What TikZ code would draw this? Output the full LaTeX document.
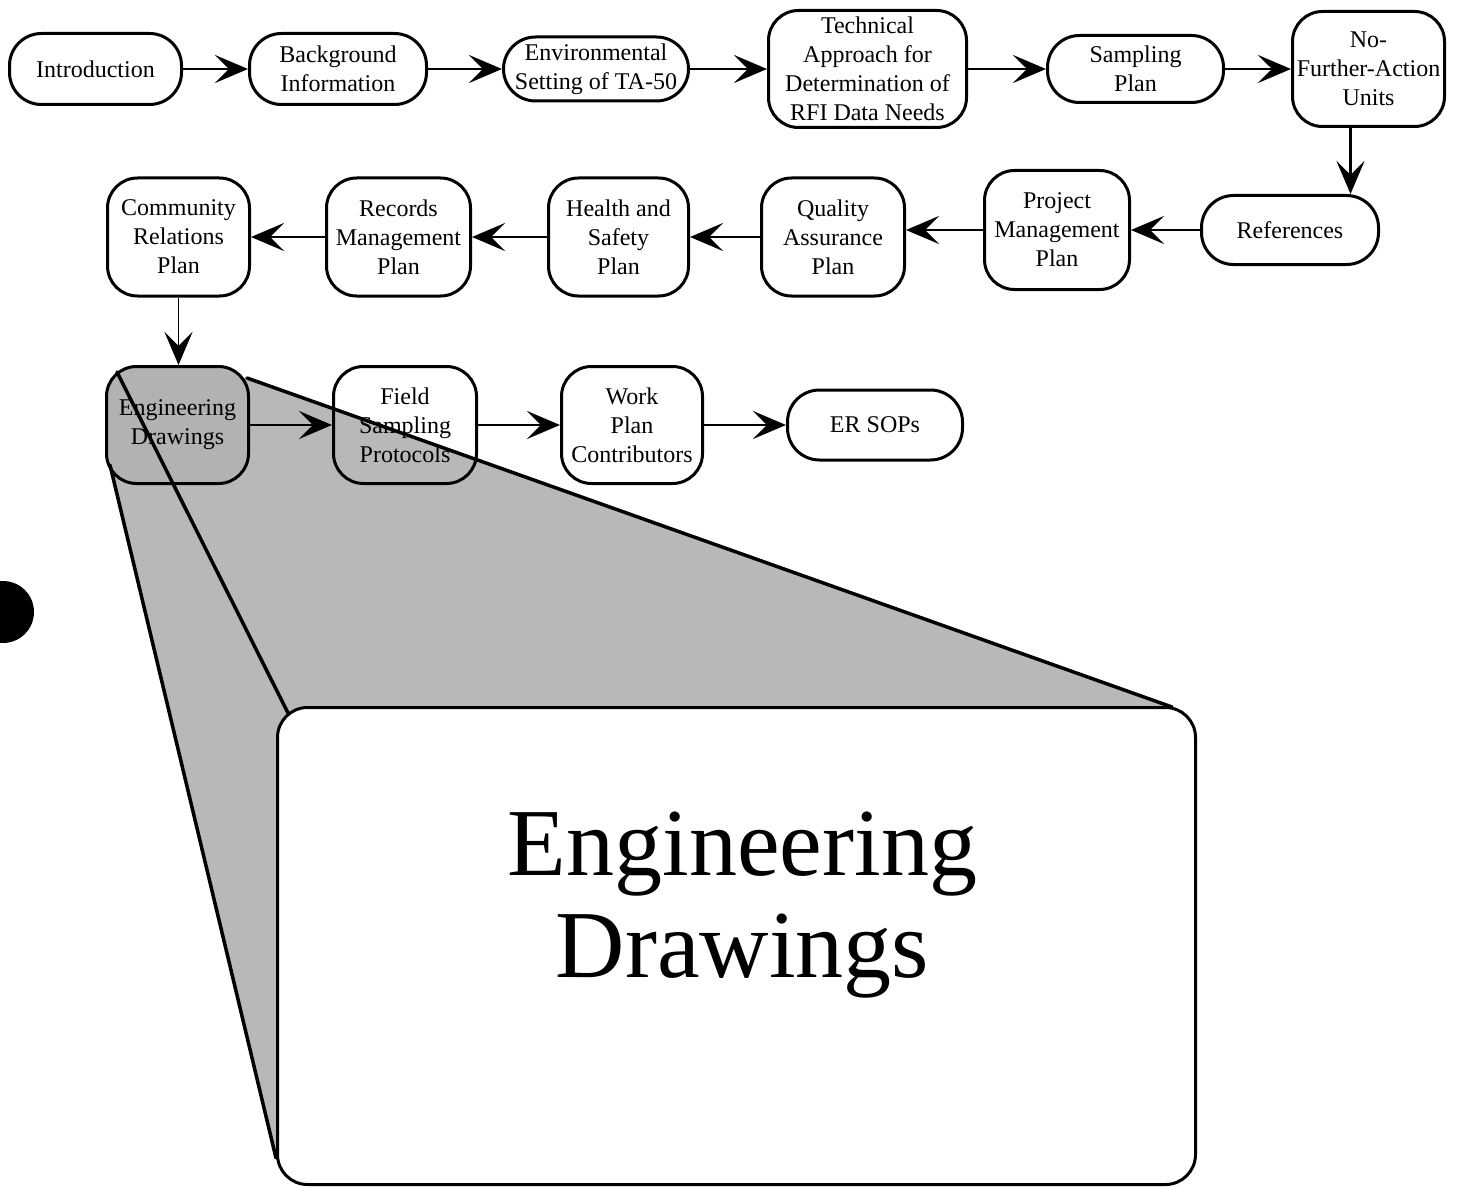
\documentclass[tikz,border=0pt]{standalone}
\usepackage{fontspec}
\setmainfont{Liberation Serif}
\usetikzlibrary{positioning, arrows.meta, calc, backgrounds}

\begin{document}
\begin{tikzpicture}[x=1pt, y=-1pt,
    every node/.style={font=\fontsize{24}{29}\selectfont},
    box/.style={rectangle, draw, line width=3pt, rounded corners=30pt, align=center, inner sep=1pt, minimum width=143pt, minimum height=118pt},
    pill/.style={box, rounded corners=32pt, minimum height=69pt},
    flow/.style={-{Stealth[length=33pt, width=28pt, inset=14pt]}, line width=2.8pt},
    thinflow/.style={flow, line width=1.8pt},
    lens/.style={line width=3.5pt, line cap=round}]

  \useasboundingbox (0,0) rectangle (1460,1188);

  % first row
  \node[pill, minimum width=172pt, minimum height=71pt] (intro) at (95.5,69) {Introduction};
  \node[pill, minimum width=177pt, minimum height=71pt, right=65pt of intro] (backgr) {Background\\Information};
  \node[pill, minimum width=185pt, minimum height=64pt, right=74pt of backgr] (envset) {Environmental\\Setting of TA-50};
  \node[box, minimum width=198pt, minimum height=117pt, right=77pt of envset] (techapp) {Technical\\Approach for\\Determination of\\RFI Data Needs};
  \node[pill, minimum width=176pt, minimum height=67pt, right=78pt of techapp] (sampling) {Sampling\\Plan};
  \node[box, minimum width=152pt, minimum height=115pt, right=66pt of sampling] (nfa) {No-\\Further-Action\\Units};

  % second row, right to left
  \node[box, minimum width=142pt] (commrel) at (178.5,237) {Community\\Relations\\Plan};
  \node[box, minimum width=144pt, right=74pt of commrel] (records) {Records\\Management\\Plan};
  \node[box, minimum width=140pt, right=75pt of records] (health) {Health and\\Safety\\Plan};
  \node[box, minimum width=143pt, right=70pt of health] (quality) {Quality\\Assurance\\Plan};
  \node[box, minimum width=145pt, minimum height=119pt, right=77pt of quality, yshift=7pt] (projmgmt) {Project\\Management\\Plan};
  \node[pill, minimum width=177pt, minimum height=69pt, right=69pt of projmgmt] (refs) {References};

  % third row
  \node[box, minimum width=142pt, minimum height=117pt, fill=black!30] (engdraw) at (177.5,425) {Engineering\\Drawings};
  \node[box, minimum height=117pt, right=82pt of engdraw] (fieldsamp) {Field\\Sampling\\Protocols};
  \node[box, minimum width=141pt, minimum height=117pt, right=82pt of fieldsamp] (workplan) {Work\\Plan\\Contributors};
  \node[pill, minimum width=175pt, minimum height=70pt, right=82pt of workplan] (ersops) {ER SOPs};

  % enlarged view
  \node[box, minimum width=918pt, minimum height=477pt, fill=white] (zoom) at (736.5,946) {};
  \node[font=\fontsize{96}{102}\selectfont, align=center, inner sep=0pt, anchor=north] (zoomtext) at ($(zoom.north)+(6,106)$) {Engineering\\Drawings};

  \coordinate (lensA) at ($(engdraw.north west)+(12,7)$);
  \coordinate (lensB) at ($(engdraw.north east)+(-3,13)$);
  \coordinate (lensC) at ($(engdraw.south west)+(5,-20)$);
  \coordinate (bigA) at ($(zoom.north west)+(12,7)$);
  \coordinate (bigB) at ($(zoom.north east)+(-25,1)$);
  \coordinate (bigC) at ($(zoom.south west)+(0,-28)$);

  \begin{scope}[on background layer]
    \fill[black!28] (lensA) -- (lensB) -- (bigB) -- (bigC) -- (lensC) -- cycle;
  \end{scope}

  \draw[lens] (lensA) -- (bigA);
  \draw[lens] (lensB) -- (bigB);
  \draw[lens] (lensC) -- (bigC);

  % arrows
  \draw[flow] (intro.east) -- (backgr.west |- intro.east);
  \draw[flow] (backgr.east) -- (envset.west |- backgr.east);
  \draw[flow] (envset.east) -- (techapp.west |- envset.east);
  \draw[flow] (techapp.east) -- (sampling.west |- techapp.east);
  \draw[flow] (sampling.east) -- (nfa.west |- sampling.east);
  \coordinate (nfadrop) at ($(nfa.south)+(-18,0)$);
  \draw[flow] (nfadrop) -- (refs.north -| nfadrop);
  \draw[flow] (refs.west) -- (projmgmt.east |- refs.west);
  \draw[flow] (projmgmt.west) -- (quality.east |- projmgmt.west);
  \draw[flow] (quality.west) -- (health.east |- quality.west);
  \draw[flow] (health.west) -- (records.east |- health.west);
  \draw[flow] (records.west) -- (commrel.east |- records.west);
  \draw[thinflow] (commrel.south) -- (engdraw.north -| commrel.south);
  \draw[thinflow] (engdraw.east) -- (fieldsamp.west |- engdraw.east);
  \draw[flow] (fieldsamp.east) -- (workplan.west |- fieldsamp.east);
  \draw[flow] (workplan.east) -- (ersops.west |- workplan.east);

  % punch hole
  \fill (3,612) circle (31pt);
\end{tikzpicture}
\end{document}
